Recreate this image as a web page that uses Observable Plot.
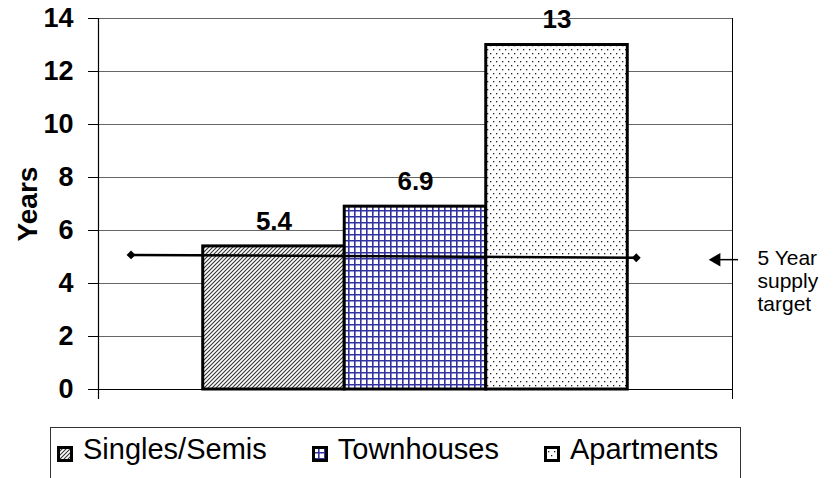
<!DOCTYPE html>
<html><head><meta charset="utf-8">
<script src="https://cdn.jsdelivr.net/npm/d3@7"></script>
<script src="https://cdn.jsdelivr.net/npm/@observablehq/plot@0.6"></script>
<style>
body{margin:0;background:#fff;font-family:"Liberation Sans",Arial,sans-serif;}
#wrap{position:relative;width:839px;height:478px;overflow:hidden;background:#fff;}
#legend{position:absolute;left:50px;top:427px;width:691px;height:80px;border:1.5px solid #333;box-sizing:border-box;display:flex;align-items:flex-start;padding-top:5px;padding-left:6px;gap:45px;font-size:29px;color:#000;}
.item{display:flex;align-items:center;gap:10px;white-space:nowrap;}
.item svg{position:relative;top:4px;}
</style></head><body>
<svg width="0" height="0" style="position:absolute">
<defs>
<pattern id="pSingles" patternUnits="userSpaceOnUse" width="4" height="4">
<rect width="4" height="4" fill="#fff"/>
<path d="M-1,1 l2,-2 M0,4 l4,-4 M3,5 l2,-2" stroke="#333" stroke-width="1.1"/>
</pattern>
<pattern id="pTown" patternUnits="userSpaceOnUse" width="6" height="6">
<rect width="6" height="6" fill="#fff"/>
<path d="M0,0.75 H6 M0.75,0 V6" stroke="#33339f" stroke-width="1.7"/>
</pattern>
<pattern id="pApt" patternUnits="userSpaceOnUse" width="6" height="8">
<rect width="6" height="8" fill="#fff"/>
<rect x="1" y="1" width="1.3" height="1.3" fill="#222"/>
<rect x="4" y="5" width="1.3" height="1.3" fill="#222"/>
</pattern>
</defs></svg>
<div id="wrap"><div id="chart"></div><div id="legend"></div></div>
<script>
// ---- data ----
const categories = ["Singles/Semis", "Townhouses", "Apartments"];
const values = [5.4, 6.9, 13];
const yTicks = [0, 2, 4, 6, 8, 10, 12, 14];
const axisTitle = "Years";
// 5-year supply target line (drawn annotation)
const targetX = [-0.51, 3.06];
const targetY = [5.08, 4.97];
const targetLabel = "5 Year\nsupply\ntarget";

// ---- styles (not data) ----
const patternIds = {"Singles/Semis": "pSingles", "Townhouses": "pTown", "Apartments": "pApt"};
const xDomain = [-0.74, 3.74];
const fontFamily = "'Liberation Sans', Arial, sans-serif";

const bars = categories.map((c, i) => ({category: c, i, value: values[i], fill: `url(#${patternIds[c]})`}));
const target = targetX.map((x, i) => ({x, y: targetY[i]}));

const chart = Plot.plot({
  width: 839,
  height: 420,
  marginLeft: 98,
  marginRight: 107,
  marginTop: 18,
  marginBottom: 31,
  style: {fontFamily, background: "#fff", overflow: "visible", color: "#000"},
  x: {type: "linear", domain: xDomain, axis: null},
  y: {domain: [0, 14], axis: null},
  color: {type: "identity"},
  marks: [
    Plot.ruleY(yTicks.filter(v => v > 0), {stroke: "#666", strokeWidth: 1}),
    Plot.rectY(bars, {x1: d => d.i, x2: d => d.i + 1, y: "value", fill: "fill", stroke: "#000", strokeWidth: 3}),
    Plot.ruleY([0], {stroke: "#000", strokeWidth: 1}),
    Plot.ruleX([xDomain[0]], {stroke: "#000", strokeWidth: 1.2, insetBottom: -10}),
    Plot.ruleX([xDomain[1]], {stroke: "#000", strokeWidth: 1, insetBottom: -10}),
    Plot.axisY(yTicks, {tickSize: 10, tickPadding: 15, fontSize: 27, fontWeight: "bold", label: null, stroke: "#000"}),
    Plot.text([axisTitle], {frameAnchor: "left", dx: -70, rotate: -90, textAnchor: "middle", fontSize: 28, fontWeight: "bold", text: d => d}),
    Plot.text(bars, {x: d => d.i + 0.5, y: "value", text: d => String(d.value), dy: -25, fontSize: 26, fontWeight: "bold"}),
    Plot.line(target, {x: "x", y: "y", stroke: "#000", strokeWidth: 2.5}),
    Plot.dot(target, {x: "x", y: "y", symbol: "diamond2", r: 4, fill: "#000", stroke: null}),
    // arrow pointing at the target line
    Plot.ruleY([targetY[1] - 0.07], {stroke: "#000", strokeWidth: 1.5, insetLeft: 614, insetRight: -6}),
    Plot.dot([targetY[1] - 0.07], {y: d => d, frameAnchor: "right", dx: -16, symbol: "triangle", rotate: -90, r: 5, fill: "#000", stroke: null}),
    Plot.text([targetLabel], {y: targetY[1] - 0.85, frameAnchor: "right", dx: 25, textAnchor: "start", fontSize: 21, fontFamily, lineHeight: 1.1, text: d => d})
  ]
});
document.getElementById("chart").appendChild(chart);

// ---- legend ----
const legend = d3.select("#legend");
categories.forEach(c => {
  const item = legend.append("div").attr("class", "item");
  const s = item.append("svg").attr("width", 16).attr("height", 16);
  s.append("rect").attr("x", 1.5).attr("y", 1.5).attr("width", 13).attr("height", 13)
    .attr("fill", `url(#${patternIds[c]})`).attr("stroke", "#000").attr("stroke-width", 3);
  item.append("span").text(c);
});
</script>
</body></html>
